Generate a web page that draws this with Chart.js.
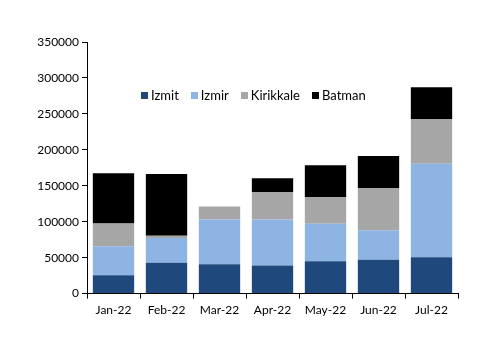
<!DOCTYPE html>
<html>
<head>
<meta charset="utf-8">
<script src="https://cdn.jsdelivr.net/npm/chart.js@4/dist/chart.umd.min.js"></script>
<style>
  body { margin: 0; background: #fff; }
  #wrap { position: relative; width: 500px; height: 353px; }
  #legend {
    position: absolute; top: 87px; left: 141px;
    display: flex; gap: 12px;
    font-family: Lato, "Open Sans", sans-serif; font-size: 13px; color: #000;
  }
  #legend span.item { display: flex; align-items: center; }
  #legend span.box { width: 7px; height: 7px; margin-right: 3px; display: inline-block; }
</style>
</head>
<body>
<div id="wrap">
  <canvas id="chart" width="500" height="353"></canvas>
  <div id="legend"></div>
</div>
<script>
const months = ['Jan-22', 'Feb-22', 'Mar-22', 'Apr-22', 'May-22', 'Jun-22', 'Jul-22'];
const izmit = [25500, 43000, 41000, 39000, 45000, 47000, 50500];
const izmir = [40500, 34500, 62000, 64000, 52000, 41000, 130000];
const kirikkale = [31500, 3000, 18000, 38500, 37500, 59000, 62500];
const batman = [70000, 86000, 0, 19000, 44000, 44500, 44000];
const seriesNames = ['Izmit', 'Izmir', 'Kirikkale', 'Batman'];
const colours = ['#1F497D', '#8DB4E2', '#A6A6A6', '#000000'];

const fontFamily = 'Lato, "Open Sans", sans-serif';

const ctx = document.getElementById('chart').getContext('2d');
const chart = new Chart(ctx, {
    type: 'bar',
    data: {
        labels: months,
        datasets: [izmit, izmir, kirikkale, batman].map((vals, i) => ({
            label: seriesNames[i],
            data: vals,
            backgroundColor: colours[i],
            borderWidth: 0,
            barPercentage: 0.78,
            categoryPercentage: 1
        }))
    },
    options: {
        responsive: false,
        animation: false,
        layout: { padding: { top: 42, right: 42, bottom: 32, left: 0 } },
        scales: {
            x: {
                stacked: true,
                grid: { drawOnChartArea: false, drawTicks: true, tickLength: 5, color: '#000' },
                border: { display: true, color: '#000', width: 1 },
                ticks: { color: '#000', padding: 4, font: { family: fontFamily, size: 12 } }
            },
            y: {
                stacked: true,
                min: 0,
                max: 350000,
                afterFit: (scale) => { scale.width = 87; },
                grid: { drawOnChartArea: false, drawTicks: true, tickLength: 5, color: '#000' },
                border: { display: true, color: '#000', width: 1 },
                ticks: {
                    stepSize: 50000, color: '#000', padding: 3,
                    font: { family: fontFamily, size: 12 },
                    callback: (v) => String(v)
                }
            }
        },
        plugins: {
            legend: { display: false },
            tooltip: { enabled: false }
        }
    }
});

// html legend
const legendEl = document.getElementById('legend');
seriesNames.forEach((name, i) => {
    const item = document.createElement('span');
    item.className = 'item';
    item.innerHTML = '<span class="box" style="background:' + colours[i] + '"></span>' + name;
    legendEl.appendChild(item);
});
</script>
</body>
</html>
